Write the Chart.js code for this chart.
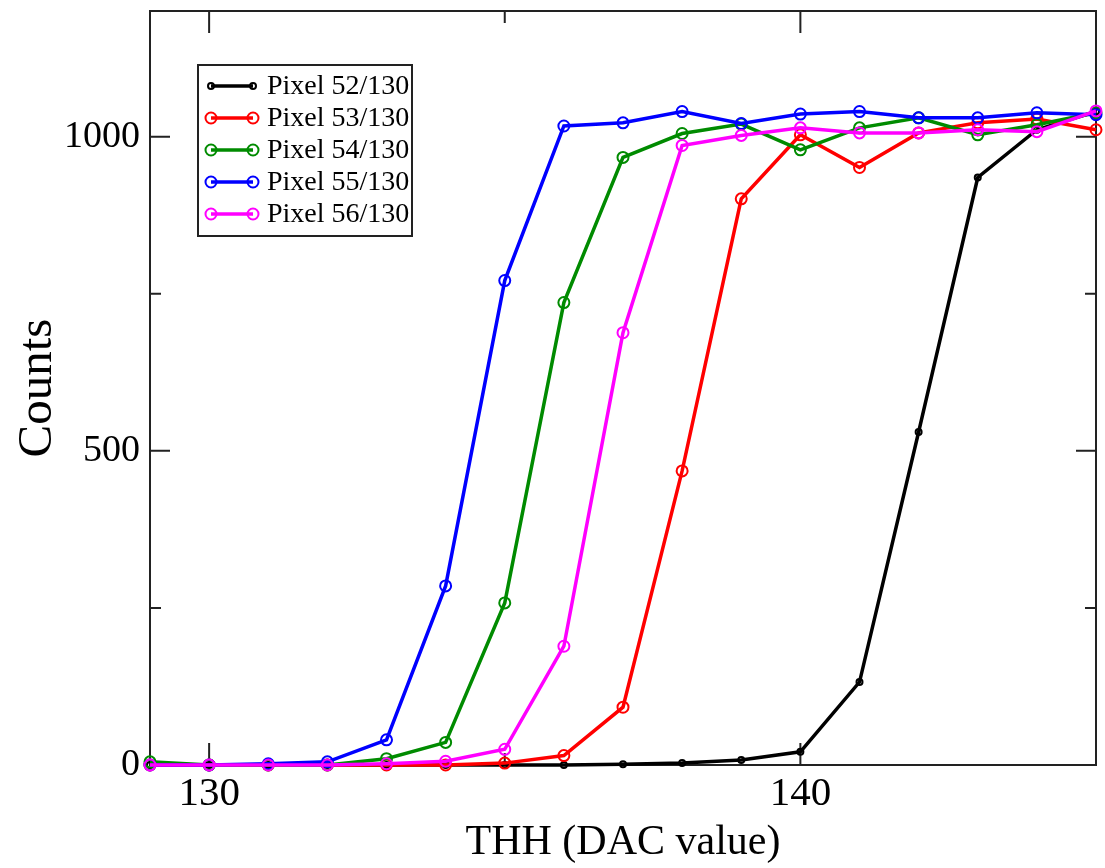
<!DOCTYPE html>
<html>
<head>
<meta charset="utf-8">
<script src="https://cdn.jsdelivr.net/npm/chart.js@4/dist/chart.umd.min.js"></script>
<style>
    body { margin: 0; background: #fff; }
    canvas { display: block; }
</style>
</head>
<body>
<canvas id="Chart" width="1105" height="868"></canvas>
<script>
// THH scan, counts per DAC step
const thhValues = [129, 130, 131, 132, 133, 134, 135, 136, 137, 138, 139, 140, 141, 142, 143, 144, 145]

const pixel52 = [0, 0, 0, 0, 0, 0, 0, 0, 1, 3, 8, 21, 132, 530, 935, 1011, 1040]
const pixel53 = [0, 0, 0, 0, 0, 0, 3, 15, 92, 468, 901, 1003, 951, 1006, 1022, 1028, 1011]
const pixel54 = [5, 0, 0, 0, 10, 36, 258, 736, 967, 1005, 1020, 979, 1014, 1030, 1003, 1019, 1038]
const pixel55 = [0, 0, 2, 5, 40, 285, 771, 1017, 1022, 1040, 1021, 1036, 1040, 1030, 1030, 1038, 1035]
const pixel56 = [0, 0, 0, 0, 2, 6, 25, 189, 688, 986, 1002, 1014, 1006, 1006, 1011, 1008, 1041]

const seriesNames = ["Pixel 52/130", "Pixel 53/130", "Pixel 54/130", "Pixel 55/130", "Pixel 56/130"]
const seriesColors = ["#000000", "#ff0000", "#008b00", "#0000ff", "#ff00ff"]

const xMajorTicks = [130, 140]
const xMinorTicks = [135, 145]
const yMajorTicks = [0, 500, 1000]
const yMinorTicks = [250, 750]

const serif = '"Liberation Serif", "Times New Roman", serif'

function toPoints(values) {
    return values.map((v, i) => ({ x: thhValues[i], y: v }))
}

const allSeries = [pixel52, pixel53, pixel54, pixel55, pixel56]

const datasets = allSeries.map((values, i) => ({
    label: seriesNames[i],
    data: toPoints(values),
    borderColor: seriesColors[i],
    backgroundColor: seriesColors[i],
    borderWidth: 3.5,
    pointRadius: i == 0 ? 3 : 5.5,
    pointBorderWidth: 2,
    pointBorderColor: seriesColors[i],
    pointBackgroundColor: 'rgba(0,0,0,0)',
    pointStyle: 'circle',
    tension: 0,
    clip: false,
    order: allSeries.length - 1 - i
}))

// frame with inward ticks on all four sides
const frameTicks = {
    id: 'frameTicks',
    beforeDatasetsDraw(chart) {
        const ctx = chart.ctx
        const a = chart.chartArea
        const x = chart.scales.x
        const y = chart.scales.y
        ctx.save()
        ctx.strokeStyle = '#222'
        ctx.lineWidth = 2
        ctx.strokeRect(a.left, a.top, a.right - a.left, a.bottom - a.top)
        ctx.beginPath()
        const xTick = (v, len) => {
            const px = x.getPixelForValue(v)
            ctx.moveTo(px, a.bottom); ctx.lineTo(px, a.bottom - len)
            ctx.moveTo(px, a.top); ctx.lineTo(px, a.top + len)
        }
        const yTick = (v, len) => {
            const py = y.getPixelForValue(v)
            ctx.moveTo(a.left, py); ctx.lineTo(a.left + len, py)
            ctx.moveTo(a.right, py); ctx.lineTo(a.right - len, py)
        }
        xMajorTicks.forEach(v => xTick(v, 22))
        xMinorTicks.forEach(v => xTick(v, 12))
        yMajorTicks.forEach(v => yTick(v, 20))
        yMinorTicks.forEach(v => yTick(v, 11))
        ctx.stroke()
        ctx.restore()
    }
}

// boxed legend in the upper left, like the grace output
const boxLegend = {
    id: 'boxLegend',
    afterDraw(chart) {
        const ctx = chart.ctx
        const a = chart.chartArea
        const left = a.left + 48
        const top = a.top + 54
        const w = 214
        const h = 171
        ctx.save()
        ctx.fillStyle = '#fff'
        ctx.fillRect(left, top, w, h)
        ctx.strokeStyle = '#222'
        ctx.lineWidth = 2
        ctx.strokeRect(left, top, w, h)
        chart.data.datasets.forEach((ds, i) => {
            const yy = top + 21 + i * 32
            const x1 = left + 13
            const x2 = left + 55
            ctx.strokeStyle = ds.borderColor
            ctx.lineWidth = 3.5
            ctx.beginPath()
            ctx.moveTo(x1, yy)
            ctx.lineTo(x2, yy)
            ctx.stroke()
            ctx.lineWidth = 2
            ;[x1, x2].forEach(px => {
                ctx.beginPath()
                ctx.arc(px, yy, ds.pointRadius, 0, Math.PI * 2)
                ctx.stroke()
            })
            ctx.fillStyle = '#000'
            ctx.font = `28px ${serif}`
            ctx.textBaseline = 'middle'
            ctx.textAlign = 'left'
            ctx.fillText(ds.label, left + 69, yy + 1)
        })
        ctx.restore()
    }
}

const config = {
    type: 'line',
    data: { datasets: datasets },
    options: {
        responsive: false,
        animation: false,
        devicePixelRatio: 1,
        layout: { padding: { top: 11, right: 9, left: 0, bottom: 0 } },
        plugins: {
            legend: { display: false },
            tooltip: { enabled: false }
        },
        scales: {
            x: {
                type: 'linear',
                min: 129,
                max: 145,
                afterBuildTicks: (axis) => { axis.ticks = xMajorTicks.map(v => ({ value: v })) },
                afterFit: (axis) => {
                    axis.height = 103
                    axis.paddingLeft = 0
                    axis.paddingRight = 0
                },
                grid: { display: false, drawTicks: false },
                border: { display: false },
                ticks: {
                    color: '#000',
                    padding: 5,
                    maxRotation: 0,
                    callback: (v) => String(v),
                    font: { family: serif, size: 41 }
                },
                title: {
                    display: true,
                    text: 'THH (DAC value)',
                    color: '#000',
                    padding: { top: 0, bottom: 0 },
                    font: { family: serif, size: 42 }
                }
            },
            y: {
                type: 'linear',
                min: 0,
                max: 1200,
                afterBuildTicks: (axis) => { axis.ticks = yMajorTicks.map(v => ({ value: v })) },
                afterFit: (axis) => {
                    axis.width = 150
                    axis.paddingTop = 0
                    axis.paddingBottom = 0
                },
                grid: { display: false, drawTicks: false },
                border: { display: false },
                ticks: {
                    color: '#000',
                    padding: 10,
                    callback: (v) => String(v),
                    font: { family: serif, size: 38 }
                },
                title: {
                    display: true,
                    text: 'Counts',
                    color: '#000',
                    padding: { top: 9, bottom: 0 },
                    font: { family: serif, size: 49 }
                }
            }
        }
    },
    plugins: [frameTicks, boxLegend]
}

chart = new Chart(document.getElementById('Chart'), config)
</script>
</body>
</html>
